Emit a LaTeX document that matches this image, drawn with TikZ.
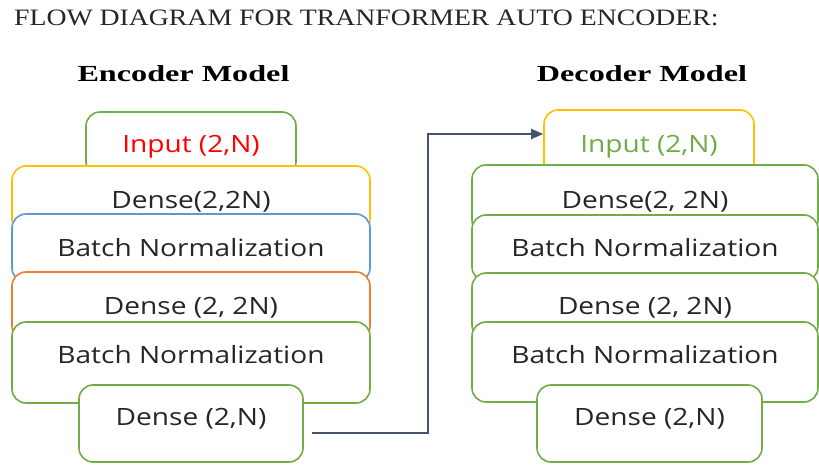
\documentclass[tikz,border=0pt]{standalone}
\newcommand{\EncX}{191}
\newcommand{\DecX}{645}
\newcommand{\EncW}{358}
\newcommand{\DecW}{346}
\newcommand{\CapH}{17pt}
\usepackage{fontspec}
\setmainfont{Liberation Serif}
\newfontfamily\layerfont[FakeStretch=1.18]{Open Sans}
\newfontfamily\titlefont[FakeStretch=1.18]{Liberation Serif}
\newfontfamily\headfont[FakeStretch=1.40]{Liberation Serif}
\usepackage{xcolor}
\usepackage{tikz}
\usetikzlibrary{arrows.meta,calc,positioning}
\definecolor{leafgreen}{HTML}{70AD47}
\definecolor{goldline}{HTML}{FFC000}
\definecolor{skyline}{HTML}{5B9BD5}
\definecolor{rustline}{HTML}{ED7D31}
\definecolor{slateflow}{HTML}{44546A}
\definecolor{inkgray}{HTML}{262626}
\tikzset{
  layer/.style={draw,fill=white,rounded corners=14pt,line width=1.6pt,inner sep=0pt,
    font=\layerfont\fontsize{23.8}{26}\selectfont,text=inkgray,
    text height=\CapH,text depth=0pt},
  heading/.style={anchor=base,inner sep=0pt,font=\headfont\bfseries\fontsize{23}{25}\selectfont},
  flow/.style={draw=slateflow,line width=2pt,-{Triangle[length=12pt,width=10pt]}}
}

\begin{document}
\begin{tikzpicture}[x=1pt,y=-1pt]
\useasboundingbox (0,0) rectangle (819,465);
\node[anchor=base west,inner sep=0pt,text=inkgray,font=\titlefont\fontsize{23.5}{25}\selectfont]
  (title) at (14,26) {FLOW DIAGRAM FOR TRANFORMER AUTO ENCODER:};
\node[heading] (encHead) at (183.5,82) {Encoder Model};
\node[heading] (decHead) at (642,82) {Decoder Model};
% encoder stack, each layer laid over the one above it
\node[layer,draw=leafgreen,text=red,minimum width=210pt,minimum height=64pt] (encIn) at (\EncX,144) {Input (2,N)};
\node[layer,draw=goldline,minimum width=\EncW pt,minimum height=67pt] (encD1) at (\EncX,199.5) {Dense(2,2N)};
\node[layer,draw=skyline,minimum width=\EncW pt,minimum height=68pt] (encB1) at (\EncX,248) {Batch Normalization};
\node[layer,draw=rustline,minimum width=\EncW pt,minimum height=68pt] (encD2) at (\EncX,306) {Dense (2, 2N)};
\node[layer,draw=leafgreen,minimum width=\EncW pt,minimum height=81pt,text depth=15pt] (encB2) at (\EncX,362.5) {Batch Normalization};
\node[layer,draw=leafgreen,minimum width=224pt,minimum height=77pt,text depth=13pt] (encN) at (\EncX,423.5) {Dense (2,N)};
% decoder stack
\node[layer,draw=goldline,text=leafgreen,minimum width=210pt,minimum height=68pt] (decIn) at (649,144) {Input (2,N)};
\node[layer,draw=leafgreen,minimum width=\DecW pt,minimum height=69pt] (decD1) at (\DecX,199.5) {Dense(2, 2N)};
\node[layer,draw=leafgreen,minimum width=\DecW pt,minimum height=66pt] (decB1) at (\DecX,248) {Batch Normalization};
\node[layer,draw=leafgreen,minimum width=\DecW pt,minimum height=66pt] (decD2) at (\DecX,306) {Dense (2, 2N)};
\node[layer,draw=leafgreen,minimum width=\DecW pt,minimum height=80pt,text depth=14pt] (decB2) at (\DecX,362) {Batch Normalization};
\node[layer,draw=leafgreen,minimum width=225pt,minimum height=77pt,text depth=13pt] (decN) at (649.5,423.5) {Dense (2,N)};
\draw[flow] ([xshift=8pt,yshift=-9.5pt]encN.east) -- ++(116pt,0) |- ([yshift=10pt]decIn.west);
\end{tikzpicture}
\end{document}
